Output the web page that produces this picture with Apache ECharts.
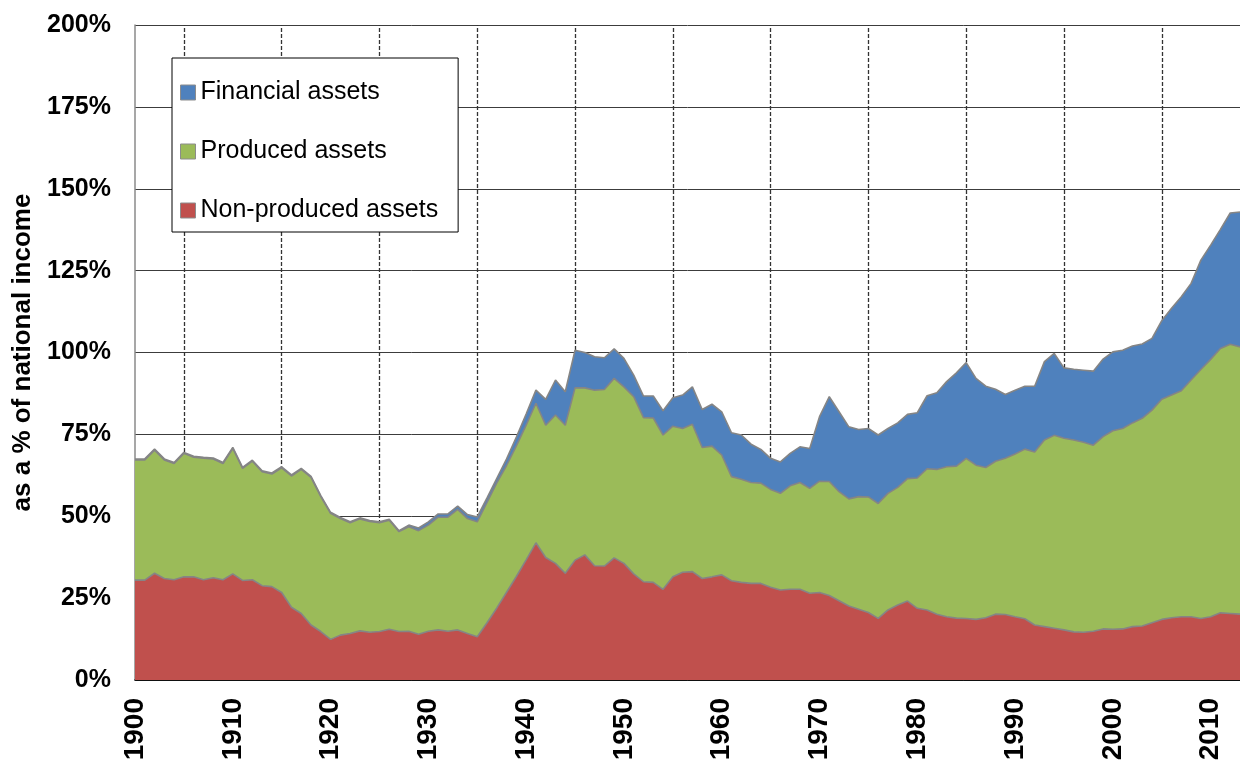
<!DOCTYPE html>
<html>
<head>
<meta charset="utf-8">
<script src="https://cdn.jsdelivr.net/npm/echarts@6/dist/echarts.min.js"></script>
<style>
  html, body { margin: 0; padding: 0; background: #fff; }
  #chart { width: 1240px; height: 765px; }
</style>
</head>
<body>
<div id="chart"></div>
<script>
// years 1900 .. 2013
var years = [];
for (var y = 1900; y <= 2013; y++) years.push(String(y));

// dashed guide lines sit between the decade labels
var guideYears = ['1905', '1915', '1925', '1935', '1945', '1955', '1965', '1975', '1985', '1995', '2005'];

// % of national income
var nonProduced = [
  30.5, 30.5, 32.6, 31.0, 30.6, 31.5, 31.5, 30.6, 31.2, 30.6,
  32.4, 30.4, 30.6, 28.8, 28.5, 26.7, 22.2, 20.3, 16.8, 14.8,
  12.4, 13.7, 14.2, 15.0, 14.6, 14.8, 15.5, 14.8, 14.9, 14.0,
  14.9, 15.3, 14.9, 15.3, 14.2, 13.2, 17.5, 22.0, 26.8, 31.6,
  36.7, 41.9, 37.4, 35.6, 32.6, 36.6, 38.2, 34.9, 34.8, 37.3,
  35.6, 32.4, 30.0, 29.8, 27.7, 31.5, 32.9, 33.1, 31.0, 31.5,
  32.1, 30.3, 29.8, 29.5, 29.5, 28.3, 27.5, 27.7, 27.7, 26.5,
  26.7, 25.8, 24.2, 22.6, 21.6, 20.6, 18.8, 21.4, 22.9, 24.1,
  21.9, 21.4, 20.1, 19.3, 18.9, 18.8, 18.5, 19.0, 20.1, 20.0,
  19.3, 18.7, 16.8, 16.3, 15.8, 15.3, 14.7, 14.6, 14.9, 15.6,
  15.5, 15.6, 16.3, 16.5, 17.5, 18.5, 19.0, 19.3, 19.3, 18.8,
  19.3, 20.5, 20.3, 20.1
];
var produced = [
  36.7, 36.7, 37.6, 36.2, 35.5, 37.7, 36.5, 37.1, 36.3, 35.5,
  38.3, 34.2, 36.2, 34.8, 34.4, 38.1, 40.1, 44.0, 45.1, 41.2,
  38.5, 35.6, 33.8, 34.2, 33.8, 33.2, 33.3, 30.5, 31.9, 31.6,
  32.4, 34.4, 34.8, 36.8, 35.1, 35.1, 36.7, 38.2, 38.7, 39.9,
  41.1, 42.6, 40.4, 45.3, 45.2, 52.6, 51.0, 53.6, 53.9, 54.8,
  53.9, 54.1, 50.1, 50.2, 47.1, 46.0, 43.9, 45.0, 40.0, 39.9,
  36.6, 31.8, 31.5, 30.8, 30.6, 29.9, 29.5, 31.6, 32.6, 32.0,
  34.0, 34.8, 33.3, 32.7, 34.4, 35.3, 35.1, 35.6, 35.9, 37.4,
  39.8, 43.1, 44.2, 45.8, 46.4, 48.9, 47.1, 45.9, 46.7, 47.7,
  49.7, 51.8, 52.8, 57.0, 58.9, 58.5, 58.6, 58.0, 56.8, 58.7,
  60.6, 61.2, 62.2, 63.4, 64.9, 67.2, 68.0, 69.0, 72.3, 76.0,
  78.6, 80.7, 82.2, 81.6
];
var financial = [
  0.3, 0.3, 0.3, 0.3, 0.3, 0.3, 0.3, 0.3, 0.3, 0.3,
  0.3, 0.3, 0.3, 0.3, 0.3, 0.3, 0.3, 0.3, 0.3, 0.3,
  0.3, 0.3, 0.3, 0.3, 0.3, 0.3, 0.3, 0.3, 0.5, 0.8,
  1.0, 1.0, 1.0, 1.0, 1.2, 1.5, 1.4, 1.4, 2.0, 2.7,
  3.4, 4.0, 7.9, 10.7, 10.2, 11.5, 10.8, 10.2, 9.7, 9.0,
  8.7, 6.6, 6.6, 6.7, 7.4, 8.7, 10.2, 11.4, 11.6, 12.8,
  13.2, 13.4, 13.5, 11.7, 10.3, 9.5, 9.6, 9.9, 10.9, 12.2,
  19.7, 25.9, 24.4, 22.0, 20.5, 20.9, 20.9, 19.8, 19.7, 19.6,
  19.9, 22.3, 23.4, 26.0, 28.5, 29.2, 26.5, 24.8, 22.0, 19.5,
  19.5, 19.2, 20.1, 23.9, 25.0, 21.5, 21.6, 22.0, 22.6, 23.7,
  24.1, 23.9, 23.5, 22.7, 21.9, 24.0, 26.5, 28.7, 29.5, 33.4,
  34.9, 36.4, 40.1, 41.2
];

var FONT = '"Liberation Sans", Arial, sans-serif';
var chart = echarts.init(document.getElementById('chart'));

function areaSeries(name, color, vals) {
  return {
    name: name,
    type: 'line',
    stack: 'total',
    data: vals,
    showSymbol: false,
    symbol: 'none',
    z: 3,
    lineStyle: { color: '#858585', width: 1.6 },
    itemStyle: { color: color, borderColor: '#858585', borderWidth: 1 },
    areaStyle: { color: color, opacity: 1 },
    emphasis: { disabled: true },
    animation: false
  };
}

var series = [
  areaSeries('Non-produced assets', '#C0504D', nonProduced),
  areaSeries('Produced assets', '#9BBB59', produced),
  areaSeries('Financial assets', '#4F81BD', financial)
];
series[0].markLine = {
  silent: true,
  z: 1,
  symbol: 'none',
  label: { show: false },
  lineStyle: { color: '#333', type: [4, 2], width: 1.3 },
  animation: false,
  data: guideYears.map(function (g) { return { xAxis: g }; })
};

chart.setOption({
  animation: false,
  textStyle: { fontFamily: FONT },
  grid: { left: 135, right: 0, top: 25, bottom: 85 },
  legend: {
    orient: 'vertical',
    left: 172,
    top: 58,
    data: ['Financial assets', 'Produced assets', 'Non-produced assets'],
    icon: 'rect',
    itemWidth: 15,
    itemHeight: 15,
    itemGap: 34,
    padding: [22, 20, 9, 8],
    backgroundColor: '#fff',
    borderColor: '#000',
    borderWidth: 1,
    borderRadius: 0,
    z: 10,
    itemStyle: { borderColor: '#8c8c8c', borderWidth: 1 },
    textStyle: { fontFamily: FONT, fontSize: 25, color: '#000' }
  },
  xAxis: {
    type: 'category',
    data: years,
    boundaryGap: false,
    axisLine: { show: true, lineStyle: { color: '#000', width: 1.5 } },
    axisTick: { show: false },
    splitLine: { show: false },
    axisLabel: {
      interval: 9,
      rotate: 90,
      margin: 18,
      fontSize: 28,
      fontWeight: 'bold',
      color: '#000',
      fontFamily: FONT
    }
  },
  yAxis: {
    type: 'value',
    min: 0,
    max: 200,
    interval: 25,
    name: 'as a % of national income',
    nameLocation: 'middle',
    nameGap: 91,
    nameTextStyle: { fontSize: 26, fontWeight: 'bold', color: '#000', fontFamily: FONT },
    axisLine: { show: true, lineStyle: { color: '#8a8a8a', width: 1.5 } },
    axisTick: { show: false },
    splitLine: { show: true, lineStyle: { color: '#3c3c3c', width: 1 } },
    axisLabel: {
      formatter: '{value}%',
      margin: 24,
      fontSize: 25,
      fontWeight: 'bold',
      color: '#000',
      fontFamily: FONT
    }
  },
  series: series
});
</script>
</body>
</html>
